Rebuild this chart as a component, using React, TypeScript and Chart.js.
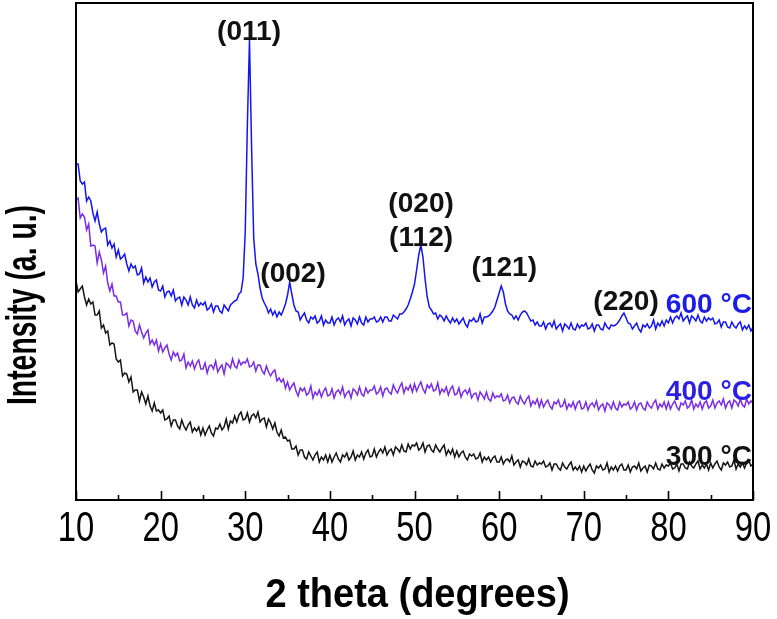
import { useEffect, useRef } from 'react';
import { Chart, registerables } from 'chart.js';

Chart.register(...registerables);

// 2θ measurement grid (degrees)
const TWO_THETA = [
  10, 10.25, 10.5, 10.75, 11, 11.25, 11.5, 11.75, 12, 12.25, 12.5, 12.75, 13, 13.25, 13.5, 13.75, 14, 14.25, 14.5, 14.75,
  15, 15.25, 15.5, 15.75, 16, 16.25, 16.5, 16.75, 17, 17.25, 17.5, 17.75, 18, 18.25, 18.5, 18.75, 19, 19.25, 19.5, 19.75,
  20, 20.25, 20.5, 20.75, 21, 21.25, 21.5, 21.75, 22, 22.25, 22.5, 22.75, 23, 23.25, 23.5, 23.75, 24, 24.25, 24.5, 24.75,
  25, 25.25, 25.5, 25.75, 26, 26.25, 26.5, 26.75, 27, 27.25, 27.5, 27.75, 28, 28.25, 28.5, 28.75, 29, 29.25, 29.5, 29.75,
  30, 30.25, 30.5, 30.75, 31, 31.25, 31.5, 31.75, 32, 32.25, 32.5, 32.75, 33, 33.25, 33.5, 33.75, 34, 34.25, 34.5, 34.75,
  35, 35.25, 35.5, 35.75, 36, 36.25, 36.5, 36.75, 37, 37.25, 37.5, 37.75, 38, 38.25, 38.5, 38.75, 39, 39.25, 39.5, 39.75,
  40, 40.25, 40.5, 40.75, 41, 41.25, 41.5, 41.75, 42, 42.25, 42.5, 42.75, 43, 43.25, 43.5, 43.75, 44, 44.25, 44.5, 44.75,
  45, 45.25, 45.5, 45.75, 46, 46.25, 46.5, 46.75, 47, 47.25, 47.5, 47.75, 48, 48.25, 48.5, 48.75, 49, 49.25, 49.5, 49.75,
  50, 50.25, 50.5, 50.75, 51, 51.25, 51.5, 51.75, 52, 52.25, 52.5, 52.75, 53, 53.25, 53.5, 53.75, 54, 54.25, 54.5, 54.75,
  55, 55.25, 55.5, 55.75, 56, 56.25, 56.5, 56.75, 57, 57.25, 57.5, 57.75, 58, 58.25, 58.5, 58.75, 59, 59.25, 59.5, 59.75,
  60, 60.25, 60.5, 60.75, 61, 61.25, 61.5, 61.75, 62, 62.25, 62.5, 62.75, 63, 63.25, 63.5, 63.75, 64, 64.25, 64.5, 64.75,
  65, 65.25, 65.5, 65.75, 66, 66.25, 66.5, 66.75, 67, 67.25, 67.5, 67.75, 68, 68.25, 68.5, 68.75, 69, 69.25, 69.5, 69.75,
  70, 70.25, 70.5, 70.75, 71, 71.25, 71.5, 71.75, 72, 72.25, 72.5, 72.75, 73, 73.25, 73.5, 73.75, 74, 74.25, 74.5, 74.75,
  75, 75.25, 75.5, 75.75, 76, 76.25, 76.5, 76.75, 77, 77.25, 77.5, 77.75, 78, 78.25, 78.5, 78.75, 79, 79.25, 79.5, 79.75,
  80, 80.25, 80.5, 80.75, 81, 81.25, 81.5, 81.75, 82, 82.25, 82.5, 82.75, 83, 83.25, 83.5, 83.75, 84, 84.25, 84.5, 84.75,
  85, 85.25, 85.5, 85.75, 86, 86.25, 86.5, 86.75, 87, 87.25, 87.5, 87.75, 88, 88.25, 88.5, 88.75, 89, 89.25, 89.5, 89.75,
  90,
];

// Intensity (a. u.) — 300 °C
const I_300 = [
  219, 208, 211, 214, 203, 195, 201, 196, 198, 185, 185, 189, 172, 175, 167, 169, 155, 157, 156, 141,
  138, 140, 124, 127, 126, 118, 123, 108, 110, 110, 99, 108, 103, 96, 104, 94, 89, 97, 89, 90,
  87, 90, 80, 81, 84, 74, 80, 80, 74, 71, 80, 74, 70, 75, 78, 68, 72, 69, 73, 65,
  72, 65, 70, 74, 67, 64, 72, 71, 76, 70, 73, 81, 71, 79, 77, 84, 78, 85, 88, 80,
  81, 87, 78, 84, 86, 82, 88, 78, 81, 82, 73, 81, 77, 71, 77, 68, 64, 70, 62, 63,
  59, 60, 51, 51, 54, 45, 50, 50, 43, 41, 48, 44, 40, 45, 48, 38, 43, 40, 45, 38,
  45, 38, 43, 47, 41, 38, 45, 43, 47, 40, 43, 49, 40, 45, 43, 48, 41, 47, 50, 43,
  44, 51, 43, 48, 51, 47, 53, 45, 49, 51, 45, 53, 51, 48, 55, 49, 48, 56, 51, 55,
  54, 57, 50, 52, 57, 48, 54, 55, 50, 48, 55, 51, 48, 52, 55, 45, 50, 46, 51, 43,
  49, 43, 47, 49, 43, 40, 46, 44, 46, 41, 42, 47, 38, 43, 40, 43, 38, 42, 44, 38,
  38, 43, 36, 40, 41, 38, 44, 35, 38, 40, 33, 39, 38, 35, 41, 34, 33, 39, 35, 37,
  36, 39, 33, 34, 37, 30, 36, 36, 32, 30, 37, 33, 31, 35, 38, 30, 33, 30, 34, 28,
  34, 29, 33, 36, 30, 27, 34, 32, 35, 30, 31, 37, 28, 33, 30, 34, 29, 34, 36, 30,
  30, 35, 28, 33, 34, 31, 37, 29, 32, 34, 28, 35, 34, 31, 37, 31, 30, 36, 32, 35,
  34, 37, 31, 32, 36, 29, 36, 36, 32, 31, 38, 34, 32, 36, 39, 31, 35, 32, 36, 30,
  37, 32, 36, 39, 33, 30, 37, 35, 38, 33, 34, 40, 31, 36, 33, 37, 32, 37, 40, 34,
  36,
];

// Intensity (a. u.) — 400 °C
const I_400 = [
  300, 302, 282, 286, 283, 270, 276, 254, 255, 254, 237, 248, 240, 227, 234, 217, 209, 216, 204, 204,
  198, 198, 185, 185, 187, 174, 180, 179, 169, 166, 175, 168, 162, 167, 170, 156, 160, 155, 160, 149,
  156, 148, 152, 155, 146, 140, 148, 144, 147, 139, 140, 146, 132, 138, 134, 139, 131, 137, 140, 131,
  131, 137, 127, 134, 135, 131, 139, 128, 132, 135, 126, 137, 135, 132, 141, 134, 132, 140, 135, 138,
  137, 141, 133, 134, 138, 129, 135, 135, 129, 126, 134, 128, 124, 128, 130, 119, 122, 118, 121, 112,
  118, 110, 114, 117, 109, 104, 112, 109, 112, 105, 107, 114, 102, 108, 105, 110, 103, 109, 112, 104,
  105, 111, 102, 108, 110, 106, 113, 103, 107, 109, 102, 111, 109, 105, 113, 106, 104, 112, 107, 110,
  110, 114, 106, 108, 113, 104, 111, 112, 108, 106, 115, 110, 107, 113, 117, 107, 113, 110, 115, 108,
  116, 109, 114, 118, 111, 107, 115, 112, 116, 109, 110, 117, 106, 111, 108, 113, 105, 111, 114, 105,
  106, 112, 103, 108, 110, 106, 111, 102, 106, 107, 100, 108, 105, 101, 108, 101, 99, 107, 102, 104,
  103, 106, 99, 100, 105, 97, 102, 103, 98, 96, 104, 99, 96, 101, 104, 94, 99, 96, 101, 93,
  100, 93, 97, 100, 94, 91, 98, 96, 100, 93, 94, 100, 91, 96, 93, 98, 91, 97, 99, 91,
  92, 98, 90, 95, 97, 93, 99, 90, 94, 96, 89, 97, 95, 91, 98, 92, 90, 98, 93, 96,
  95, 98, 91, 93, 98, 90, 96, 97, 92, 90, 98, 94, 92, 97, 100, 91, 96, 93, 98, 91,
  98, 91, 96, 99, 93, 90, 97, 95, 99, 92, 94, 100, 91, 96, 93, 98, 91, 97, 99, 92,
  94, 100, 92, 97, 99, 95, 101, 92, 97, 99, 92, 100, 98, 94, 101, 95, 93, 101, 96, 99,
  97,
];

// Intensity (a. u.) — 600 °C
const I_600 = [
  336, 336, 319, 316, 318, 299, 303, 299, 287, 279, 288, 276, 268, 271, 272, 255, 259, 252, 256, 243,
  250, 241, 243, 246, 236, 229, 236, 232, 234, 225, 226, 232, 217, 223, 218, 222, 213, 218, 220, 210,
  209, 214, 203, 208, 209, 204, 210, 199, 202, 203, 195, 203, 200, 195, 203, 195, 192, 200, 194, 197,
  195, 198, 190, 192, 196, 188, 194, 194, 189, 187, 195, 192, 189, 195, 197, 199, 200, 206, 208, 222,
  268, 375, 460, 352, 262, 236, 226, 212, 202, 197, 193, 187, 191, 185, 189, 183, 188, 185, 190, 196,
  205, 218, 206, 195, 189, 188, 180, 184, 187, 180, 177, 183, 181, 184, 177, 179, 184, 175, 180, 177,
  177, 183, 175, 180, 182, 178, 184, 175, 179, 181, 174, 182, 180, 176, 183, 177, 175, 183, 178, 181,
  181, 183, 178, 179, 183, 178, 183, 183, 179, 179, 185, 183, 181, 186, 186, 188, 191, 195, 201, 208,
  216, 230, 245, 255, 243, 221, 203, 193, 190, 186, 187, 181, 185, 183, 179, 184, 180, 177, 182, 178,
  181, 176, 179, 182, 176, 173, 180, 179, 182, 178, 179, 186, 177, 183, 183, 184, 186, 189, 193, 200,
  207, 214, 208, 196, 189, 186, 185, 181, 184, 180, 185, 188, 189, 187, 183, 179, 180, 175, 178, 174,
  174, 178, 171, 176, 177, 173, 179, 171, 174, 176, 169, 176, 174, 171, 177, 171, 170, 176, 172, 175,
  174, 177, 171, 172, 176, 169, 175, 175, 171, 170, 177, 173, 171, 175, 174, 175, 177, 180, 184, 187,
  182, 177, 176, 171, 174, 177, 171, 168, 175, 173, 176, 172, 174, 180, 171, 177, 174, 179, 174, 180,
  177, 183, 177, 182, 184, 181, 187, 179, 182, 184, 177, 184, 182, 179, 185, 179, 177, 183, 179, 182,
  180, 182, 176, 177, 180, 173, 178, 178, 173, 172, 178, 174, 172, 176, 178, 170, 174, 171, 175, 169,
  173,
];

const X_TICKS = [10, 15, 20, 25, 30, 35, 40, 45, 50, 55, 60, 65, 70, 75, 80, 85, 90];
const X_TICK_LABELS = ['10', '', '20', '', '30', '', '40', '', '50', '', '60', '', '70', '', '80', '', '90'];

const PEAK_TEXT = ['(011)', '(002)', '(020)', '(112)', '(121)', '(220)'];
const PEAK_X = [30.45, 35.65, 50.78, 50.78, 60.6, 75.0];
const PEAK_Y = [460, 218, 288, 254, 224, 190];

const SERIES_NAMES = ['300 °C', '400 °C', '600 °C'];
const SERIES_LABEL_Y = [35, 100, 187];

const FONT = '"Liberation Sans", Arial, Helvetica, sans-serif';

function drawScaledText(
  ctx: CanvasRenderingContext2D,
  text: string,
  x: number,
  y: number,
  font: string,
  color: string,
  align: CanvasTextAlign,
  sx: number,
  rotate = 0,
) {
  ctx.save();
  ctx.translate(x, y);
  if (rotate) ctx.rotate(rotate);
  ctx.scale(sx, 1);
  ctx.font = font;
  ctx.fillStyle = color;
  ctx.textAlign = align;
  ctx.textBaseline = 'alphabetic';
  ctx.fillText(text, 0, 0);
  ctx.restore();
}

const decorPlugin = {
  id: 'xrdDecor',
  afterDatasetsDraw(chart: any) {
    const { ctx, chartArea } = chart;
    const xs = chart.scales.x;
    const ys = chart.scales.y;
    const { left, right, top, bottom } = chartArea;

    // frame
    ctx.save();
    ctx.strokeStyle = '#000';
    ctx.lineWidth = 2;
    ctx.strokeRect(left, top, right - left, bottom - top);

    // inward ticks
    ctx.lineWidth = 1.6;
    X_TICKS.forEach((v, i) => {
      const px = Math.round(xs.getPixelForValue(v)) + 0.5;
      const len = X_TICK_LABELS[i] ? 9 : 5;
      ctx.beginPath();
      ctx.moveTo(px, bottom);
      ctx.lineTo(px, bottom - len);
      ctx.stroke();
    });
    ctx.restore();

    // tick labels
    X_TICKS.forEach((v, i) => {
      const lab = X_TICK_LABELS[i];
      if (!lab) return;
      drawScaledText(ctx, lab, xs.getPixelForValue(v), bottom + 41, `42px ${FONT}`, '#000', 'center', 0.78);
    });

    // axis titles
    drawScaledText(ctx, '2 theta (degrees)', (left + right) / 2 + 3, 607, `bold 40px ${FONT}`, '#000', 'center', 0.95);
    drawScaledText(ctx, 'Intensity (a. u.)', 36, 305, `bold 42px ${FONT}`, '#000', 'center', 0.675, -Math.PI / 2);

    // peak annotations
    PEAK_TEXT.forEach((t, i) => {
      drawScaledText(ctx, t, xs.getPixelForValue(PEAK_X[i]), ys.getPixelForValue(PEAK_Y[i]), `bold 27px ${FONT}`, '#111', 'center', 1.04);
    });

    // series labels
    const labelColors = ['#111111', '#2a1fe2', '#1c1ce8'];
    SERIES_NAMES.forEach((t, i) => {
      drawScaledText(ctx, t, right - 1, ys.getPixelForValue(SERIES_LABEL_Y[i]), `bold 27px ${FONT}`, labelColors[i], 'right', 1.04);
    });
  },
};

export default function App() {
  const canvasRef = useRef<HTMLCanvasElement | null>(null);

  useEffect(() => {
    document.body.style.margin = '0';
    const canvas = canvasRef.current;
    if (!canvas) return;

    const toPoints = (vals: number[]) => TWO_THETA.map((x, i) => ({ x, y: vals[i] }));

    const chart = new Chart(canvas, {
      type: 'line',
      data: {
        datasets: [
          { label: SERIES_NAMES[0], data: toPoints(I_300), borderColor: '#151515', borderWidth: 1.5 },
          { label: SERIES_NAMES[1], data: toPoints(I_400), borderColor: '#7a2de4', borderWidth: 1.5 },
          { label: SERIES_NAMES[2], data: toPoints(I_600), borderColor: '#1414f0', borderWidth: 1.5 },
        ],
      },
      options: {
        animation: false,
        responsive: false,
        maintainAspectRatio: false,
        devicePixelRatio: 1,
        layout: { padding: { top: 3, right: 24, left: 0, bottom: 0 } },
        elements: { point: { radius: 0 }, line: { tension: 0 } },
        plugins: { legend: { display: false }, tooltip: { enabled: false } },
        scales: {
          x: {
            type: 'linear',
            min: 10,
            max: 90,
            grid: { display: false },
            border: { display: false },
            ticks: { display: false },
            afterFit: (s: any) => {
              s.height = 119;
            },
          },
          y: {
            type: 'linear',
            min: 0,
            max: 497,
            grid: { display: false },
            border: { display: false },
            ticks: { display: false },
            afterFit: (s: any) => {
              s.width = 76;
            },
          },
        },
      },
      plugins: [decorPlugin],
    } as any);

    return () => chart.destroy();
  }, []);

  return (
    <div style={{ width: 777, height: 619, background: '#fff' }}>
      <canvas ref={canvasRef} width={777} height={619} style={{ display: 'block' }} />
    </div>
  );
}
